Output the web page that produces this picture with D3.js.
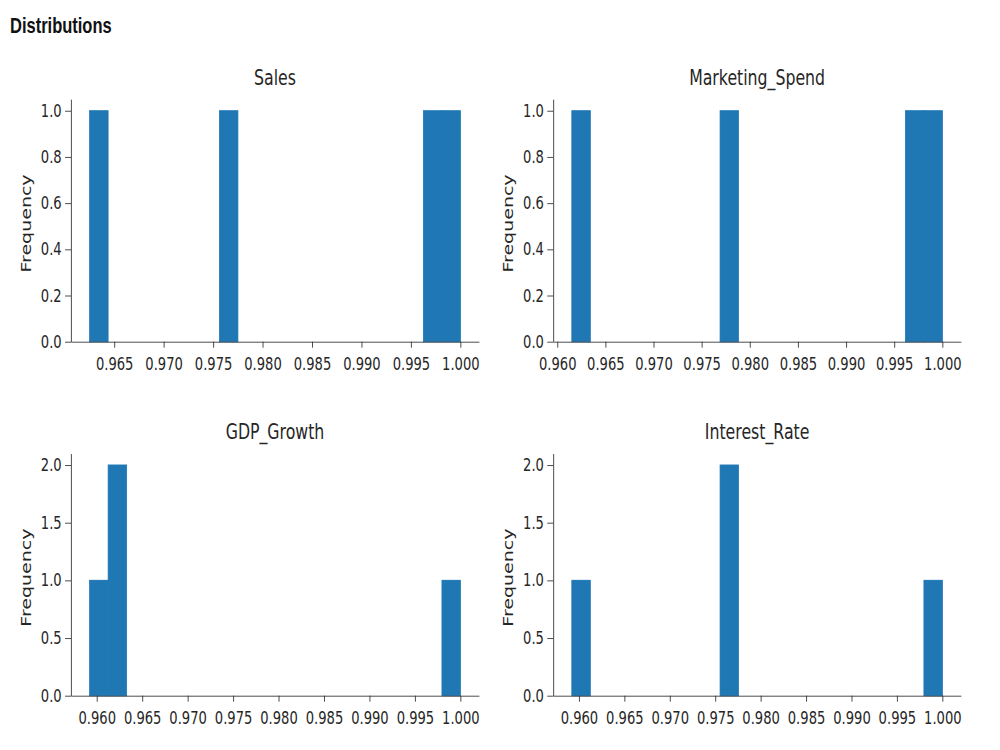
<!DOCTYPE html>
<html>
<head>
<meta charset="utf-8">
<script src="https://cdn.jsdelivr.net/npm/d3@7"></script>
<style>
  body { margin: 0; background: #fff; }
</style>
</head>
<body>
<div id="chart"></div>
<script>
// Column names and the four values of each column
const columns = ["Sales", "Marketing_Spend", "GDP_Growth", "Interest_Rate"];
const sales = [1.0, 0.997, 0.9625, 0.9765];
const marketingSpend = [0.997, 1.0, 0.9615, 0.9772];
const gdpGrowth = [0.9625, 0.9615, 1.0, 0.9592];
const interestRate = [0.9765, 0.9772, 0.9592, 1.0];
const binCount = 20;
const xTickFormat = ".3f";
const yTickFormat = ".1f";

const width = 1000;
const height = 750;
const squeeze = 0.75; // the whole figure is squeezed horizontally

// Panel frames, in the unsqueezed coordinate space
const colFrames = [[94.7, 638.7], [737.7, 1281.3]];
const rowFrames = [[99.2, 341.7], [453.5, 695.7]];

const svg = d3.select("#chart")
    .append("svg")
    .attr("width", width)
    .attr("height", height)
    .attr("viewBox", [0, 0, width, height])
    .style("font-family", "'DejaVu Sans', sans-serif");

const root = svg.append("g")
    .attr("transform", `scale(${squeeze},1)`);

root.append("text")
    .attr("x", 13.3)
    .attr("y", 33)
    .attr("font-family", "'Liberation Sans', Arial, sans-serif")
    .attr("font-weight", "bold")
    .attr("font-size", 22)
    .attr("fill", "#111")
    .text("Distributions");

const series = [sales, marketingSpend, gdpGrowth, interestRate];

columns.forEach((name, i) => {
  const values = series[i];
  const [left, right] = colFrames[i % 2];
  const [top, bottom] = rowFrames[Math.floor(i / 2)];

  // 20 equal bins between min and max, like matplotlib
  const lo = d3.min(values);
  const hi = d3.max(values);
  const step = (hi - lo) / binCount;
  const bins = d3.bin()
      .domain([lo, hi])
      .thresholds(d3.range(1, binCount).map(k => lo + k * step))(values);

  const pad = (hi - lo) * 0.05;
  const x = d3.scaleLinear()
      .domain([lo - pad, hi + pad])
      .range([left, right]);
  const y = d3.scaleLinear()
      .domain([0, d3.max(bins, b => b.length) * 1.05])
      .range([bottom, top]);

  const g = root.append("g");

  // Bars (a thin stroke of the same colour hides seams between neighbours)
  g.append("g")
      .attr("fill", "#1f77b4")
      .attr("stroke", "#1f77b4")
      .attr("stroke-width", 1)
    .selectAll()
    .data(bins.filter(b => b.length > 0))
    .join("rect")
      .attr("x", b => x(b.x0))
      .attr("y", b => y(b.length))
      .attr("width", b => x(b.x1) - x(b.x0))
      .attr("height", b => y(0) - y(b.length));

  // Axes
  const styleAxis = ax => {
    ax.attr("font-size", 17.5).attr("font-family", null);
    ax.select(".domain").attr("stroke", "#333").attr("stroke-width", 1);
    ax.selectAll(".tick line").attr("stroke", "#333").attr("stroke-width", 1);
    ax.selectAll(".tick text").attr("fill", "#262626");
  };

  g.append("g")
      .attr("transform", `translate(0,${bottom})`)
      .call(d3.axisBottom(x).ticks(10, xTickFormat).tickSize(6).tickSizeOuter(0).tickPadding(10))
      .call(styleAxis);

  g.append("g")
      .attr("transform", `translate(${left},0)`)
      .call(d3.axisLeft(y).ticks(5, yTickFormat).tickSize(8).tickSizeOuter(0).tickPadding(4.5))
      .call(styleAxis);

  // Title
  g.append("text")
      .attr("x", (left + right) / 2)
      .attr("y", top - 14.5)
      .attr("text-anchor", "middle")
      .attr("font-size", 21)
      .attr("fill", "#262626")
      .text(name);

  // Y label
  g.append("text")
      .attr("transform", `translate(${left - 54},${(top + bottom) / 2 + 3}) rotate(-90)`)
      .attr("text-anchor", "middle")
      .attr("font-size", 19)
      .attr("fill", "#262626")
      .text("Frequency");
});
</script>
</body>
</html>
